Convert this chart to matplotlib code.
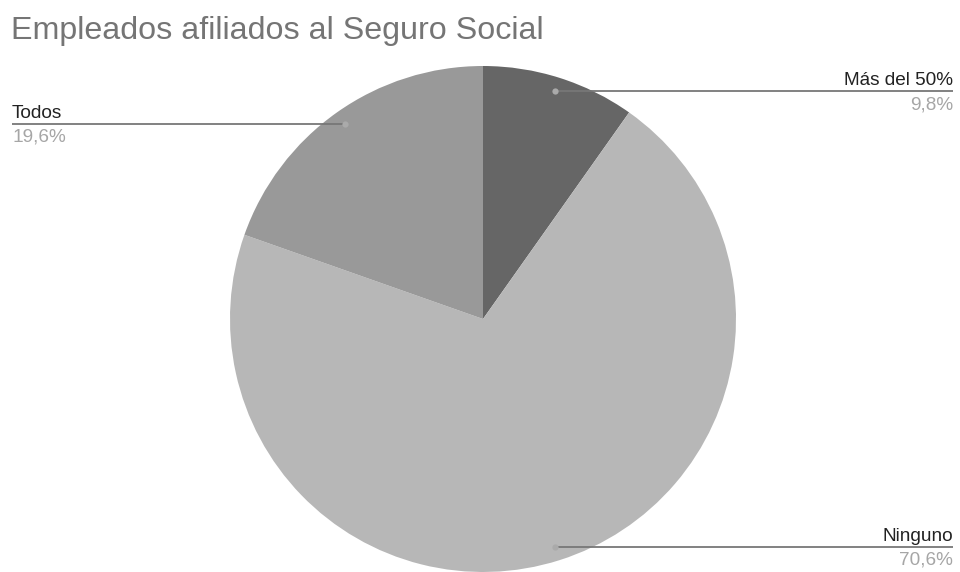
import numpy as np
import matplotlib
matplotlib.use("Agg")
import matplotlib.pyplot as plt

plt.rcParams['font.family'] = ['Liberation Sans', 'DejaVu Sans']

# ---------------------------------------------------------------
# data
# ---------------------------------------------------------------

title = "Empleados afiliados al Seguro Social"
categories = ["Más del 50%", "Ninguno", "Todos"]
shares = [9.8, 70.6, 19.6]
colors = ["#666666", "#b7b7b7", "#999999"]

# ---------------------------------------------------------------
# figure in pixel units (y measured from the bottom)
# ---------------------------------------------------------------

W, H = 960, 572
fig = plt.figure(figsize=(W / 100, H / 100), dpi=100)
ax = fig.add_axes([0, 0, 1, 1])

cx, cy, r = 483, H - 319, 253

ax.pie(shares, colors=colors, startangle=90, counterclock=False,
       center=(cx, cy), radius=r, frame=True,
       wedgeprops=dict(linewidth=0))
ax.set_xlim(0, W)
ax.set_ylim(0, H)
ax.set_aspect("equal")
ax.axis("off")

fig.text(11 / W, 1 - 39 / H, title, fontsize=23.2, color="#757575",
         ha="left", va="baseline")

# leader lines and labels
total = sum(shares)
start = 0.0
for name, val in zip(categories, shares):
    mid = (start + val / 2) / total
    start += val
    ang = np.pi / 2 - 2 * np.pi * mid
    px = cx + 0.945 * r * np.cos(ang)
    py = cy + 0.945 * r * np.sin(ang)
    if px >= cx:
        x_end, ha = 953, "right"
    else:
        x_end, ha = 12, "left"
    ax.plot([px, x_end], [py, py], color="#777777", lw=1.3,
            solid_capstyle="butt", zorder=3)
    ax.plot(px, py, "o", ms=4.5, color="#aaaaaa", mec="none", zorder=4)
    ax.text(x_end, py + 6, name, fontsize=13.7, color="#222222",
            ha=ha, va="baseline")
    pct = ("%.1f%%" % (val / total * 100)).replace(".", ",")
    ax.text(x_end, py - 18, pct, fontsize=13.7, color="#a6a6a6",
            ha=ha, va="baseline")

plt.savefig("out.png", dpi=100, facecolor="white")
